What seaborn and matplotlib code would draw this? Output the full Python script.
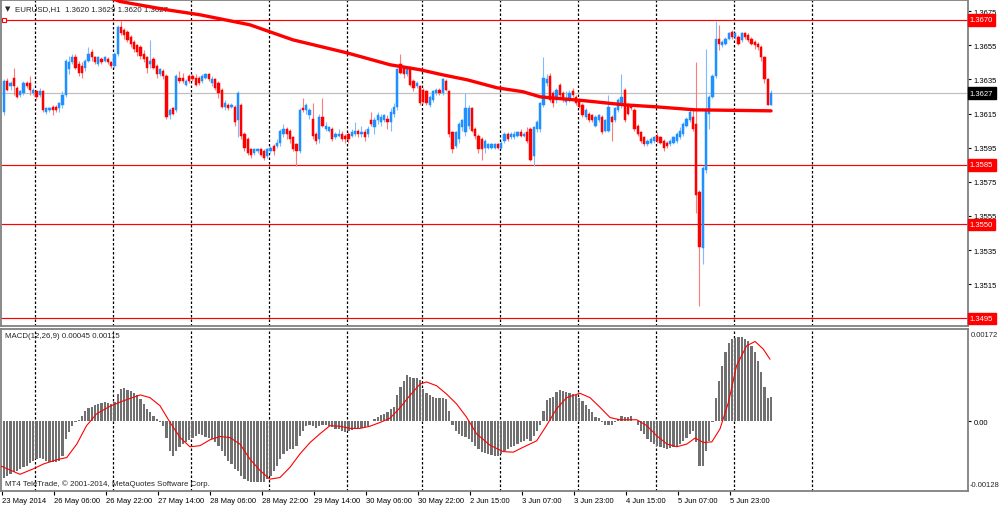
import numpy as np
import matplotlib
matplotlib.use("Agg")
import matplotlib.pyplot as plt
import matplotlib.transforms as mtransforms
import seaborn as sns

# ---------------- data ----------------
BASE = 1.3500      # prices below are given in pips above 1.3500
PIP = 0.0001

open_pips = [116,134,131,136,130,126,127,133,133,127,128,126,128,116,117,119,119,118,120,126,
             141,145,148,144,143,142,146,151,148,144,147,146,147,145,143,150,166,164,163,160,
             157,155,154,150,148,144,147,143,138,140,137,114,118,117,136,136,132,137,137,136,
             136,134,136,138,133,135,133,129,119,120,119,119,111,120,103,100,94,92,93,94,
             93,90,93,96,96,98,103,106,105,101,97,93,118,117,114,112,103,100,113,106,
             105,106,101,102,103,102,103,102,103,105,103,104,103,111,107,111,110,111,112,110,
             115,119,144,142,138,142,134,131,131,129,128,120,123,127,129,127,134,128,104,96,
             100,107,104,108,118,106,102,100,95,95,95,95,97,95,99,103,101,101,102,104,
             102,104,106,90,106,106,120,133,137,127,123,132,127,122,123,128,125,123,120,113,
             115,114,108,111,113,105,105,113,111,117,120,129,120,119,117,108,104,101,97,98,
             99,102,101,99,98,97,98,99,101,103,108,111,113,109,69,36,82,115,125,137,
             159,155,156,159,163,160,160,158,162,161,159,157,156,154,148,135,120]
close_pips = [134,129,133,131,125,128,133,131,129,129,125,128,117,118,118,117,117,121,126,146,
              145,148,142,139,139,146,150,148,145,148,145,148,145,143,150,166,162,161,158,156,
              153,151,149,147,142,146,142,138,141,137,113,117,115,137,134,134,134,134,135,132,
              133,137,138,135,135,130,127,119,121,118,120,110,127,102,95,92,91,94,94,91,
              89,94,95,93,98,105,106,103,100,94,93,117,117,120,117,102,99,113,108,108,
              107,100,103,103,100,100,100,104,105,103,104,101,106,109,111,114,113,114,110,116,
              119,141,139,138,141,132,130,133,121,122,121,125,128,129,127,135,129,103,94,104,
              109,111,118,118,105,102,94,94,99,97,97,97,95,98,103,100,103,103,104,102,
              103,99,88,107,110,121,136,135,123,121,129,126,123,123,127,126,121,119,114,117,
              111,111,113,114,104,111,119,110,118,123,125,111,115,118,106,103,99,97,99,100,
              101,99,98,95,96,99,101,103,105,109,112,116,106,67,37,83,117,125,137,159,
              156,157,159,162,160,162,156,162,160,158,156,155,154,148,135,120,127]
high_pips = [135,136,134,142,131,129,134,134,137,130,129,130,129,119,119,120,120,122,128,147,
             149,150,150,146,145,147,154,153,149,149,148,149,148,146,151,167,169,165,164,161,
             158,156,155,152,149,158,148,144,142,141,138,118,119,138,140,139,135,138,138,138,
             137,138,139,139,137,136,134,130,123,121,121,120,128,121,104,101,95,95,95,95,
             94,95,96,97,100,106,109,107,106,102,98,118,124,121,118,121,104,115,124,110,
             108,107,104,106,105,103,104,106,110,106,108,106,108,116,113,116,115,115,114,118,
             121,142,150,143,142,143,135,134,132,130,129,126,129,130,130,136,135,129,105,105,
             110,112,127,120,119,107,103,101,100,98,98,98,98,99,104,104,104,105,105,106,
             104,107,107,108,111,122,148,138,139,128,130,133,128,128,129,130,126,124,121,118,
             116,115,114,115,114,112,126,114,119,124,138,130,121,120,118,109,105,102,100,101,
             102,104,102,100,99,100,102,104,107,110,113,117,118,145,70,84,153,126,138,169,
             167,158,160,163,164,163,161,163,163,162,160,158,157,155,149,136,129]
low_pips = [114,128,129,126,124,125,126,130,126,126,123,125,116,115,116,114,116,116,118,125,
            138,144,141,137,136,140,145,146,144,143,144,145,144,142,142,149,161,159,157,154,
            151,149,147,145,139,142,141,136,137,135,112,112,114,116,133,133,131,133,134,131,
            132,133,135,134,131,129,124,118,117,117,118,108,101,100,93,91,89,91,92,90,
            88,89,92,91,95,96,101,100,98,93,84,92,116,115,112,100,97,98,107,105,
            104,99,100,101,99,98,98,101,102,101,101,99,101,108,103,109,108,110,106,105,
            113,117,138,136,137,131,128,130,120,121,120,119,122,126,126,126,128,101,92,95,
            98,105,102,106,104,100,92,88,92,94,94,94,94,94,98,99,100,100,101,101,
            101,98,87,84,104,104,119,131,122,119,121,125,122,120,122,125,120,118,113,112,
            110,110,107,110,103,104,104,99,110,116,118,110,114,117,105,102,98,96,96,97,
            98,98,97,93,95,96,97,98,100,102,107,110,105,57,2,27,80,106,124,136,
            152,154,155,158,159,159,155,157,159,157,155,153,152,146,133,120,120]

# MACD main (histogram), in units of 1e-4
macd_hist = [-10.4,-10.1,-9.8,-9.4,-9.1,-8.8,-8.5,-8.2,-7.7,-7.3,-7.0,-6.7,-7.0,-7.3,-7.5,-7.6,-7.5,-7.3,-6.4,-3.3,
             -2.0,-0.8,-0.2,0.2,1.0,2.0,2.4,2.7,3.0,3.2,3.4,3.5,3.4,3.2,3.5,5.1,6.0,6.1,5.9,5.7,
             5.2,4.8,4.1,3.2,2.3,1.7,1.0,0.4,-0.2,-0.8,-3.0,-5.4,-6.4,-5.4,-4.8,-4.2,-3.9,-3.4,-3.0,-2.7,
             -2.3,-2.5,-2.8,-3.0,-3.3,-3.9,-4.5,-5.4,-6.4,-7.3,-7.9,-8.8,-9.1,-10.1,-10.7,-11.0,-11.2,-11.3,-11.3,-11.3,
             -11.2,-10.7,-10.1,-9.1,-8.2,-7.0,-6.0,-5.4,-5.1,-5.1,-4.5,-2.7,-1.7,-0.9,-0.7,-0.9,-1.3,-0.8,-0.7,-0.7,
             -0.8,-1.1,-1.4,-1.5,-1.7,-1.9,-1.7,-1.6,-1.4,-1.3,-1.2,-1.1,-0.8,0.1,0.4,0.9,1.2,1.4,1.7,2.3,
             2.6,4.9,6.3,7.5,8.5,8.3,8.1,8.0,7.7,6.0,5.2,4.9,4.6,4.4,4.3,4.3,4.1,2.0,-0.7,-1.7,
             -2.3,-2.7,-2.8,-3.3,-3.9,-4.5,-5.1,-5.6,-5.9,-6.1,-6.2,-6.4,-6.4,-6.0,-5.4,-5.1,-4.8,-4.5,-4.2,-3.9,
             -3.6,-3.3,-3.6,-2.7,-1.7,-0.7,2.0,4.0,4.3,4.6,5.4,5.8,5.7,5.4,5.2,5.1,4.9,4.4,3.8,3.0,
             2.3,1.7,0.9,0.6,-0.2,-0.7,-0.7,-0.7,-0.1,0.4,1.0,0.9,0.9,1.0,0.1,-0.7,-1.7,-2.3,-3.3,-3.9,
             -4.2,-4.5,-4.8,-5.0,-5.1,-5.0,-4.8,-4.5,-4.2,-3.6,-3.0,-2.3,-1.7,-3.9,-8.2,-8.2,-5.4,-3.6,-0.2,4.4,
             7.5,10.3,12.8,14.6,15.2,15.4,15.6,15.6,15.2,14.8,14.0,12.8,11.2,9.1,6.3,4.4,4.5]

# MACD signal line (read at points), in units of 1e-4
signal_idx = [-1.2,4.9,9,12.1,16.2,19.3,22.4,25.4,28.5,32.6,36.7,41.9,44.9,48,51.1,54.2,57.2,60.3,63.4,66.5,
              69.5,72.6,75.7,78.8,81.8,84.9,88,91.1,94.2,97.2,100.3,103.4,106.5,109.5,112.6,115.7,118.8,121.8,124.9,128,
              130,133.1,136.1,139.3,142.3,145.4,149.5,153.6,156.7,159.7,163.9,166.9,170,173.1,177.2,180.3,183.4,186.5,189.5,194.7,
              197.8,200.9,204,207,210.1,212.6,215.2,217.8,220.3,222.9,225.4,228.5,231.1,233.6,235.7]
signal_val = [-8.2,-9.8,-8.8,-7.9,-7.1,-6.7,-4.2,-0.8,1.4,2.8,3.8,4.9,4.4,2.9,-0.2,-3.0,-4.7,-4.5,-3.4,-2.8,
              -3.0,-4.2,-7.0,-9.1,-10.7,-10.4,-8.5,-6.0,-3.9,-2.3,-0.8,-0.9,-1.3,-1.3,-0.9,-0.2,0.6,2.5,4.8,6.9,
              7.3,6.6,5.1,3.2,0.8,-2.3,-4.4,-5.6,-5.7,-4.8,-3.6,-0.8,2.3,4.4,5.2,4.4,2.6,0.7,0.3,0.3,
              -0.8,-2.7,-4.2,-4.7,-4.2,-3.1,-3.9,-3.8,-1.4,3.5,10.3,14.0,14.8,13.4,11.5]

# moving average (thick red line), read at points
ma_idx = [33.0,35.7,50.2,60.3,70.5,75.7,88.9,105.5,118.8,128,135,142.5,151.7,159.7,165,178.8,191,200.3,212.6,236]
ma_price = [1.36825,1.36807,1.36758,1.36729,1.36690,1.36670,1.36582,1.36506,1.36436,1.36407,
            1.36377,1.36348,1.36301,1.36278,1.36248,1.36225,1.36201,1.36190,1.36172,1.36166]

price_ticks = [1.3515,1.3535,1.3555,1.3575,1.3595,1.3615,1.3635,1.3655,1.3675]
level_lines = [1.3670,1.3585,1.3550,1.3495]
bid_price = 1.3627
sep_idx = [9.5,33.5,57.5,81.5,105.5,128.5,152.5,176.5,200.5,224.5,248.5]
xlabel_idx = [0,16,32,48,64,80,96,112,128,144,160,176,192,208,224]
xlabels = ["23 May 2014","26 May 06:00","26 May 22:00","27 May 14:00","28 May 06:00",
           "28 May 22:00","29 May 14:00","30 May 06:00","30 May 22:00","2 Jun 15:00",
           "3 Jun 07:00","3 Jun 23:00","4 Jun 15:00","5 Jun 07:00","5 Jun 23:00"]
title_text = "EURUSD,H1  1.3620 1.3629 1.3620 1.3627"
macd_text = "MACD(12,26,9) 0.00045 0.00115"
copyright_text = "MT4 TeleTrade, \u00a9 2001-2014, MetaQuotes Software Corp."

# ---------------- style ----------------
sns.set_theme(style="white")
plt.rcParams['font.family'] = ['Liberation Sans', 'DejaVu Sans']
FS = 5.5
BULL, BEAR = '#1E90FF', '#FF0000'
BULL_W, BEAR_W = '#7DBDFF', '#FF7A7A'
FRAME = '#808080'

W, H = 1000, 506
fig = plt.figure(figsize=(W / 100, H / 100), dpi=100, facecolor='white')

def rect(x0, y0, x1, y1):
    return [x0 / W, 1 - y1 / H, (x1 - x0) / W, (y1 - y0) / H]

ax = fig.add_axes(rect(1, 1, 968, 327))
axm = fig.add_axes(rect(1, 329.5, 968, 491.5), sharex=ax)

o = BASE + np.array(open_pips) * PIP
c = BASE + np.array(close_pips) * PIP
hi = BASE + np.array(high_pips) * PIP
lo = BASE + np.array(low_pips) * PIP
idx = np.arange(len(o))
bull = c >= o

for a in (ax, axm):
    a.set_facecolor('white')
    for s in a.spines.values():
        s.set_color(FRAME)
        s.set_linewidth(1.3)
    for xs in sep_idx:
        a.axvline(xs, color='black', lw=0.9, ls=(0, (2.0, 1.6)), zorder=1)

# level lines
for lv in level_lines:
    ax.axhline(lv, color='red', lw=0.85, zorder=2)
ax.axhline(bid_price, color='#C0C0C0', lw=0.9, zorder=1.5)
ax.plot([0.0], [1.3670], marker='s', ms=3, mfc='white', mec='red', mew=0.8, zorder=5)

# candles
ax.vlines(idx, lo, hi, colors=np.where(bull, BULL_W, BEAR_W), lw=0.8, zorder=3)
ax.bar(idx, np.abs(c - o), bottom=np.minimum(o, c), width=0.64,
       color=np.where(bull, BULL, BEAR), edgecolor=np.where(bull, BULL, BEAR),
       linewidth=0.35, zorder=4)

# moving average
sns.lineplot(x=ma_idx, y=ma_price, ax=ax, color='red', lw=2.4, sort=False, zorder=6)

ax.set_xlim((1 - 4) / 3.25, (968 - 4) / 3.25)
ax.set_ylim(1.3675 - 314.8 / 17063, 1.3675 + 11.2 / 17063)
ax.yaxis.tick_right()
ax.set_yticks(price_ticks)
ax.set_yticklabels([f"{p:.4f}" for p in price_ticks])
ax.tick_params(axis='y', direction='out', length=2.5, width=0.8, pad=1.6,
               labelsize=FS, colors='black', right=True, left=False)
ax.tick_params(axis='x', bottom=False, labelbottom=False)
ax.set_xlabel(''); ax.set_ylabel('')

tr = mtransforms.blended_transform_factory(ax.transAxes, ax.transData)
for lv in level_lines:
    ax.text(1.002, lv, f"{lv:.4f}", transform=tr, va='center', ha='left', fontsize=FS,
            color='white', bbox=dict(boxstyle='square,pad=0.3', fc='red', ec='red'), zorder=10,
            clip_on=False)
ax.text(1.002, bid_price, f"{bid_price:.4f}", transform=tr, va='center', ha='left', fontsize=FS,
        color='white', bbox=dict(boxstyle='square,pad=0.3', fc='black', ec='black'), zorder=10,
        clip_on=False)

ax.text(0.0045, 0.975, "\u25bc", transform=ax.transAxes, fontsize=5.0, va='center', ha='left',
        family=['DejaVu Sans'])
ax.text(0.0145, 0.975, title_text, transform=ax.transAxes, fontsize=FS + 0.2, va='center', ha='left')

# MACD
hist = np.array(macd_hist) * 1e-4
axm.bar(idx, hist, width=0.72, color='#707070', linewidth=0, zorder=3)
sns.lineplot(x=signal_idx, y=np.array(signal_val) * 1e-4, ax=axm, color='red', lw=0.8,
             sort=False, zorder=5)
axm.set_ylim(-0.00128, 0.00172)
axm.yaxis.tick_right()
axm.set_yticks([0.0])
axm.set_yticklabels(["0.00"])
axm.tick_params(axis='y', direction='out', length=2.5, width=0.8, pad=1.6,
                labelsize=FS, colors='black', right=True, left=False)
trm = mtransforms.blended_transform_factory(axm.transAxes, axm.transAxes)
axm.text(1.003, 0.965, "0.00172", transform=trm, fontsize=FS, va='center', ha='left', clip_on=False)
axm.text(1.0015, 0.04, "-0.00128", transform=trm, fontsize=FS, va='center', ha='left', clip_on=False)
axm.text(0.0045, 0.955, macd_text, transform=axm.transAxes, fontsize=FS + 0.2, va='center', ha='left')
axm.text(0.0045, 0.045, copyright_text, transform=axm.transAxes, fontsize=FS + 0.2, va='center', ha='left')

axm.set_xticks([i - 0.7 for i in xlabel_idx])
axm.set_xticklabels(xlabels, ha='left')
axm.tick_params(axis='x', direction='out', length=3, width=0.8, pad=1.5, labelsize=FS,
                colors='black', bottom=True)
axm.set_xlabel(''); axm.set_ylabel('')
axm.grid(False); ax.grid(False)

fig.savefig("out.png", dpi=100, facecolor='white')
